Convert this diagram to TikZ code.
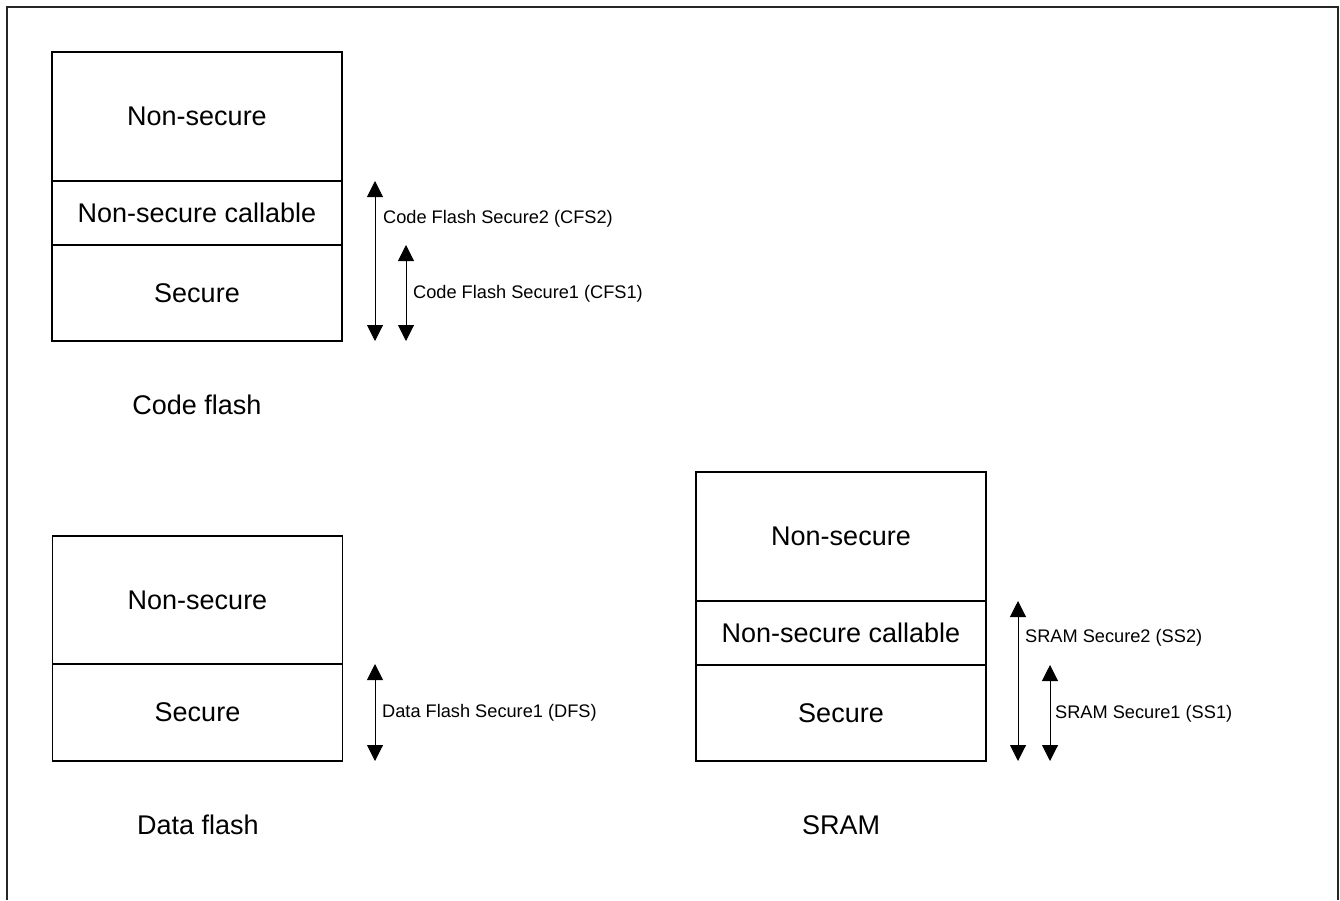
\documentclass[tikz,border=0pt]{standalone}
\usepackage{fontspec}
\setmainfont{Liberation Sans}
\usetikzlibrary{arrows.meta}
\begin{document}
\begin{tikzpicture}[x=1pt,y=-1pt,
  region/.style={draw=black,line width=1.3pt,minimum width=290pt,inner sep=0pt,font=\fontsize{27}{31}\selectfont},
  caption/.style={font=\fontsize{27}{31}\selectfont,inner sep=0pt},
  lbl/.style={font=\fontsize{18.2}{22}\selectfont,inner sep=0pt,anchor=west},
  span/.style={line width=1pt,{Triangle[width=16pt,length=16pt]}-{Triangle[width=16pt,length=16pt]}},
  frame/.style={line width=1.5pt,draw=black!85}]
\useasboundingbox (0,0) rectangle (1340,900);
\draw[frame] (7,900) -- (7,7) -- (1338,7) -- (1338,900);
% Code flash
\node[region,minimum height=129pt] (cns) at (197,116.5) {Non-secure};
\node[region,minimum height=64pt] (cnsc) at (197,213) {Non-secure callable};
\node[region,minimum height=96pt] (cs) at (197,293) {Secure};
\node[caption] (ccap) at (197,405) {Code flash};
% Data flash
\node[region,minimum height=128pt] (dns) at (197.5,600) {Non-secure};
\node[region,minimum height=97pt] (ds) at (197.5,712.5) {Secure};
\node[caption] (dcap) at (198,825) {Data flash};
% SRAM
\node[region,minimum height=129pt] (sns) at (841,536.5) {Non-secure};
\node[region,minimum height=64pt] (snsc) at (841,633) {Non-secure callable};
\node[region,minimum height=96pt] (ss) at (841,713) {Secure};
\node[caption] (scap) at (841,825) {SRAM};
% arrows code flash
\coordinate (cfs2t) at (375,181);
\coordinate (cfs2b) at (375,341);
\coordinate (cfs1t) at (406,245);
\coordinate (cfs1b) at (406,341);
\draw[span] (cfs2t) -- (cfs2b);
\draw[span] (cfs1t) -- (cfs1b);
\node[lbl] (lcfs2) at (383,219) {Code Flash Secure2 (CFS2)};
\node[lbl] (lcfs1) at (413,294) {Code Flash Secure1 (CFS1)};
% data flash arrow
\coordinate (dfst) at (375,664);
\coordinate (dfsb) at (375,761);
\draw[span] (dfst) -- (dfsb);
\node[lbl] (ldfs) at (382,713) {Data Flash Secure1 (DFS)};
% SRAM arrows
\coordinate (ss2t) at (1018,601);
\coordinate (ss2b) at (1018,761);
\coordinate (ss1t) at (1050,665);
\coordinate (ss1b) at (1050,761);
\draw[span] (ss2t) -- (ss2b);
\draw[span] (ss1t) -- (ss1b);
\node[lbl] (lss2) at (1025,638) {SRAM Secure2 (SS2)};
\node[lbl] (lss1) at (1055,714) {SRAM Secure1 (SS1)};
\end{tikzpicture}
\end{document}
